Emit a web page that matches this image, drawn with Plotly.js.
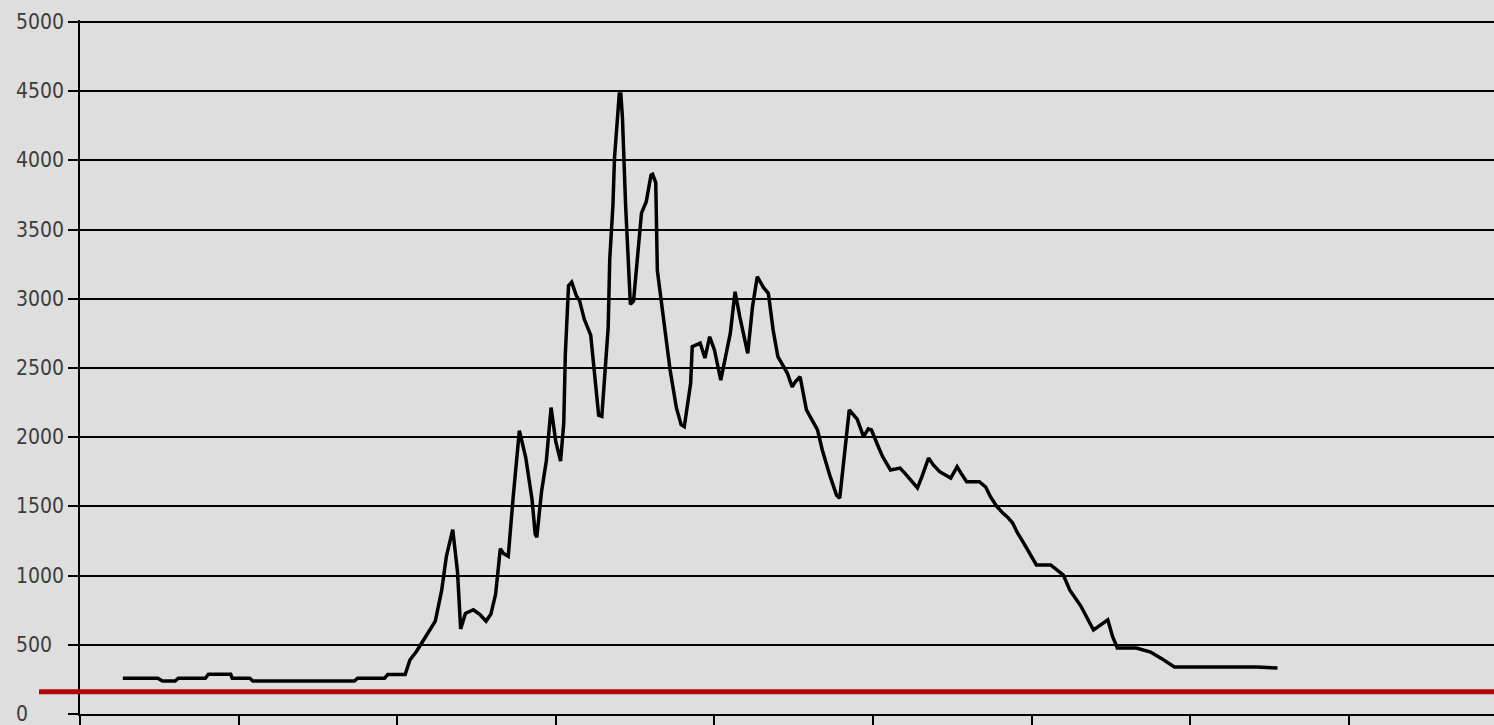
<!DOCTYPE html>
<html>
<head>
<meta charset="utf-8">
<script src="https://cdn.plot.ly/plotly-3.0.1.min.js"></script>
<style>
html,body{margin:0;padding:0;background:#dedede;}
#chart{width:1494px;height:725px;}
</style>
</head>
<body>
<div id="chart"></div>
<script>
// x positions (time index) and values
const xIndex = [27,49,52,60,62,79,81,95,96,107,109,173,175,192,194,205,208,212,218,224,228,231,235,238,240,243,248,252,256,259,262,265,267,270,273,277,281,285,287,288,291,294,297,300,303,305,306,308,310,313,315,318,322,325,327,329,330,333,334,336,337,339,340,341,342,344,346,347,349,351,354,357,360,361,363,364,368,372,376,379,381,385,386,391,394,397,400,404,407,410,413,416,421,424,427,431,434,437,440,446,449,451,454,458,465,468,473,477,479,482,485,490,494,497,499,503,506,511,517,520,523,528,531,535,538,542,549,553,556,559,567,571,574,578,582,585,588,591,595,599,603,612,616,620,624,631,639,643,648,651,654,666,675,682,690,742,755];
const values = [258,258,238,238,258,258,287,287,258,258,238,238,258,258,285,285,390,450,560,671,891,1139,1332,1029,615,726,753,720,671,720,863,1194,1160,1139,1552,2048,1855,1550,1300,1277,1607,1828,2214,1966,1828,2103,2599,3095,3120,3020,2985,2850,2737,2406,2158,2150,2324,2792,3288,3674,4018,4335,4480,4480,4307,3674,3122,2960,2985,3233,3619,3701,3894,3900,3839,3205,2847,2489,2213,2090,2076,2389,2654,2680,2572,2726,2630,2413,2582,2750,3051,2870,2606,2943,3160,3080,3040,2775,2582,2462,2364,2400,2437,2197,2052,1908,1715,1580,1560,1908,2197,2130,2004,2060,2052,1940,1860,1763,1777,1740,1700,1633,1720,1850,1800,1751,1705,1787,1730,1679,1679,1640,1570,1500,1450,1420,1380,1310,1235,1150,1077,1077,1040,1004,896,780,607,640,680,560,477,477,448,400,340,340,332];
const yTickVals = [0,500,1000,1500,2000,2500,3000,3500,4000,4500,5000];
const yTickText = ['0','500','1000','1500','2000','2500','3000','3500','4000','4500','5000'];
const thresholdLevel = 160;

const W = 1494, H = 725;
const mL = 80, mR = 0, mT = 20, mB = 11;
const plotW = W - mL - mR;
const plotH = H - mT - mB;
// 5000 sits 2px below the top of the plot area so its grid line is drawn
const yTop = 5000 * plotH / (plotH - 2);

const trace = {
  x: xIndex, y: values, type: 'scatter', mode: 'lines',
  line: {color: '#000000', width: 3.5}, hoverinfo: 'skip'
};

const labelAnnotations = yTickVals.map((v, i) => ({
  xref: 'paper', yref: 'y', x: -(mL - 14) / plotW, y: v,
  xanchor: 'left', yanchor: 'middle', showarrow: false,
  text: yTickText[i],
  font: {family: 'DejaVu Sans Condensed, DejaVu Sans', size: 21, color: '#3c3c3c'}
}));

const layout = {
  width: W, height: H,
  margin: {l: mL, r: mR, t: mT, b: mB, pad: 0},
  paper_bgcolor: '#dedede', plot_bgcolor: '#dedede',
  showlegend: false,
  xaxis: {
    range: [0, 891.5], dtick: 100, tick0: 0,
    showgrid: false, zeroline: false,
    showline: true, linecolor: '#000', linewidth: 2,
    ticks: 'outside', ticklen: 11, tickwidth: 2, tickcolor: '#000',
    showticklabels: false
  },
  yaxis: {
    range: [0, yTop],
    tickvals: yTickVals,
    showticklabels: false,
    showgrid: true, gridcolor: '#000', gridwidth: 2,
    zeroline: false,
    showline: true, linecolor: '#000', linewidth: 2,
    ticks: 'outside', ticklen: 10, tickwidth: 2, tickcolor: '#000'
  },
  annotations: labelAnnotations,
  shapes: [{
    type: 'line', xref: 'paper', yref: 'paper',
    x0: -41 / plotW, x1: 1,
    y0: thresholdLevel / yTop, y1: thresholdLevel / yTop,
    line: {color: '#b00808', width: 5}
  }]
};

Plotly.newPlot('chart', [trace], layout, {staticPlot: true, displayModeBar: false});
</script>
</body>
</html>
